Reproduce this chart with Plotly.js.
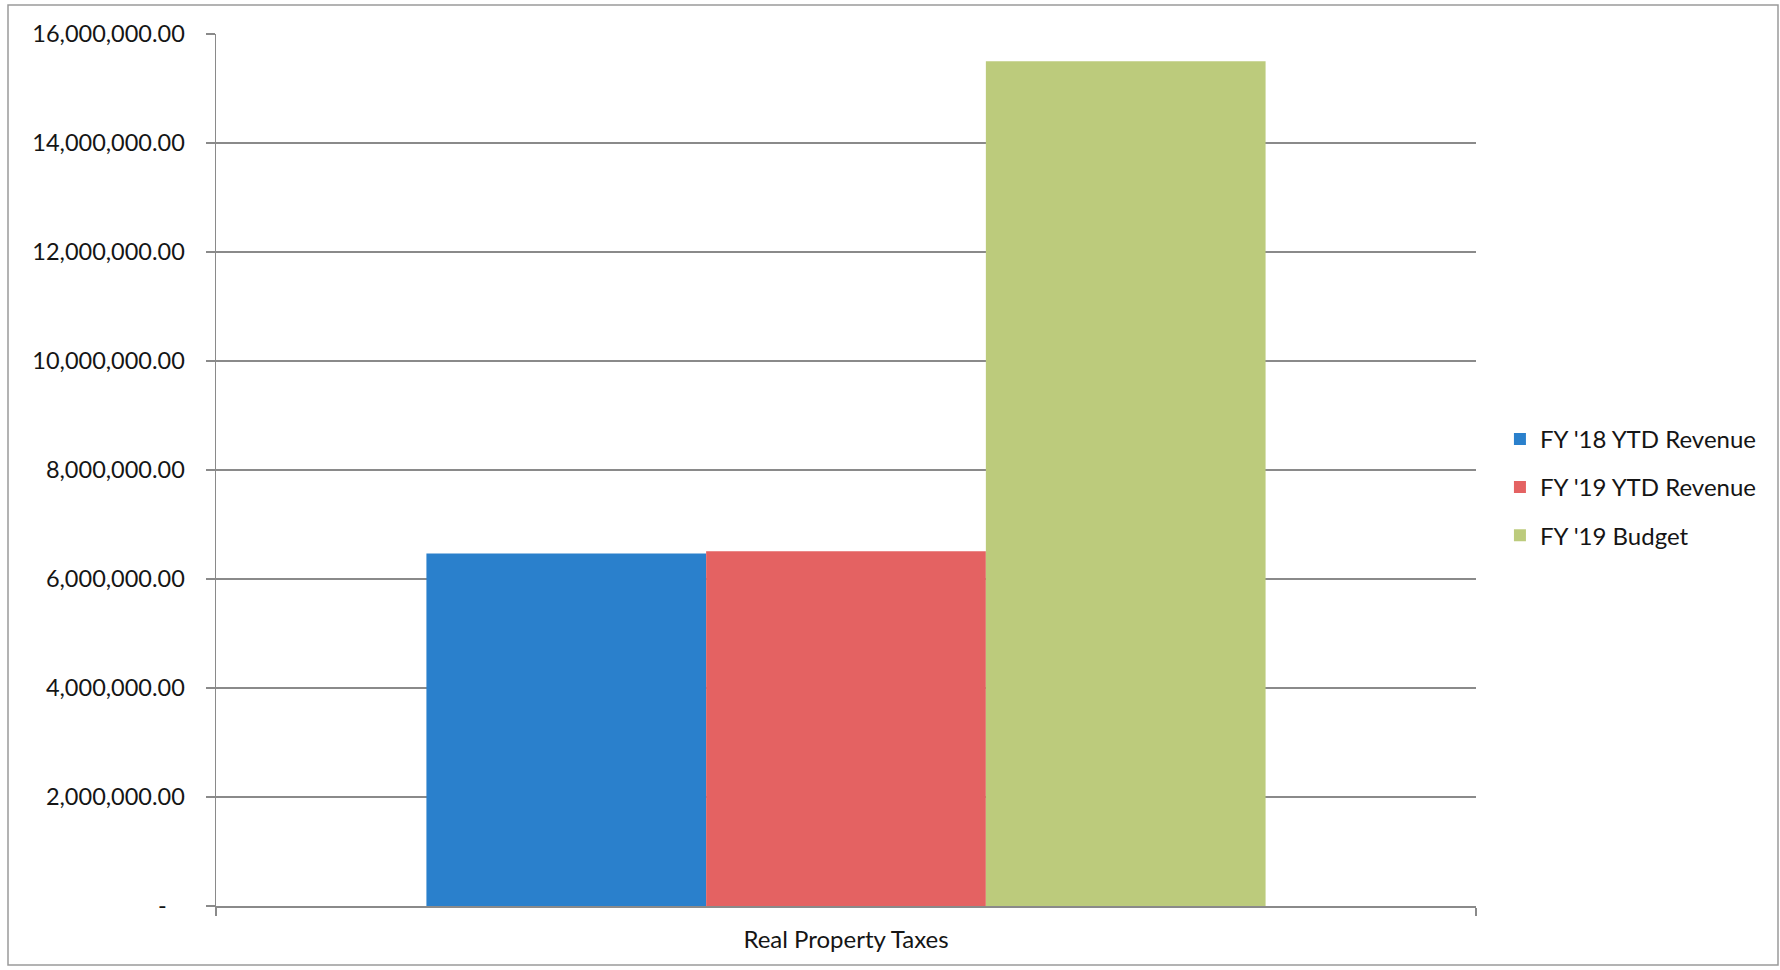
<!DOCTYPE html>
<html>
<head>
<meta charset="utf-8">
<script src="https://cdn.plot.ly/plotly-3.0.1.min.js"></script>
<style>html,body{margin:0;padding:0;background:#fff;}#chart{width:1780px;height:970px;}</style>
</head>
<body>
<div id="chart"></div>
<script>
const categories = ["Real Property Taxes"];
const seriesNames = ["FY '18 YTD Revenue", "FY '19 YTD Revenue", "FY '19 Budget"];
const fy18Revenue = [6470000];
const fy19Revenue = [6510000];
const fy19Budget = [15500000];
const tickValues = [0, 2000000, 4000000, 6000000, 8000000, 10000000, 12000000, 14000000, 16000000];
const tickLabels = ["-\u00a0\u00a0\u00a0", "2,000,000.00", "4,000,000.00", "6,000,000.00", "8,000,000.00", "10,000,000.00", "12,000,000.00", "14,000,000.00", "16,000,000.00"];
const colors = ["#2a80cc", "#e46262", "#bccb7c"];

const seriesValues = [fy18Revenue, fy19Revenue, fy19Budget];
const traces = seriesValues.map((vals, i) => ({
  type: 'bar',
  name: seriesNames[i],
  x: categories,
  y: vals,
  legendgroup: 'g' + i,
  marker: {color: colors[i], line: {width: 0}},
  hoverinfo: 'x+y+name'
}));

const font = 'Lato, "Open Sans", sans-serif';
const layout = {
  width: 1780,
  height: 970,
  margin: {l: 216, r: 304, t: 34, b: 64},
  paper_bgcolor: '#ffffff',
  plot_bgcolor: '#ffffff',
  barmode: 'group',
  bargap: 0.334,
  bargroupgap: 0,
  font: {family: font, color: '#151515', size: 23},
  showlegend: true,
  legend: {
    x: 1.019, y: 0.561, xanchor: 'left', yanchor: 'top',
    font: {family: font, size: 24, color: '#151515'},
    traceorder: 'grouped',
    tracegroupgap: 14,
    bgcolor: 'rgba(0,0,0,0)'
  },
  xaxis: {
    type: 'category',
    range: [-0.5, 0.5],
    showline: true,
    linecolor: '#8a8a8a',
    linewidth: 1.5,
    ticks: 'outside',
    tickson: 'boundaries',
    ticklen: 8,
    tickcolor: '#8a8a8a',
    tickwidth: 1.5,
    showgrid: false,
    ticklabelstandoff: 12,
    tickfont: {family: font, size: 24, color: '#151515'},
    fixedrange: true
  },
  yaxis: {
    range: [0, 16000000],
    tickvals: tickValues,
    ticktext: tickLabels,
    showline: true,
    linecolor: '#8a8a8a',
    linewidth: 1.5,
    ticks: 'outside',
    ticklen: 9,
    tickcolor: '#8a8a8a',
    tickwidth: 1.5,
    showgrid: true,
    gridcolor: '#8a8a8a',
    gridwidth: 1.5,
    zeroline: false,
    ticklabelstandoff: 16,
    tickfont: {family: font, size: 23.5, color: '#151515'},
    fixedrange: true
  },
  shapes: [{
    type: 'rect', xref: 'paper', yref: 'paper',
    x0: (8 - 216) / 1260, x1: (1778 - 216) / 1260,
    y0: (906 - 965) / 872, y1: (906 - 5) / 872,
    line: {color: '#9a9a9a', width: 1.5}, fillcolor: 'rgba(0,0,0,0)', layer: 'below'
  }]
};

Plotly.newPlot('chart', traces, layout, {displayModeBar: false, staticPlot: true});
</script>
</body>
</html>
